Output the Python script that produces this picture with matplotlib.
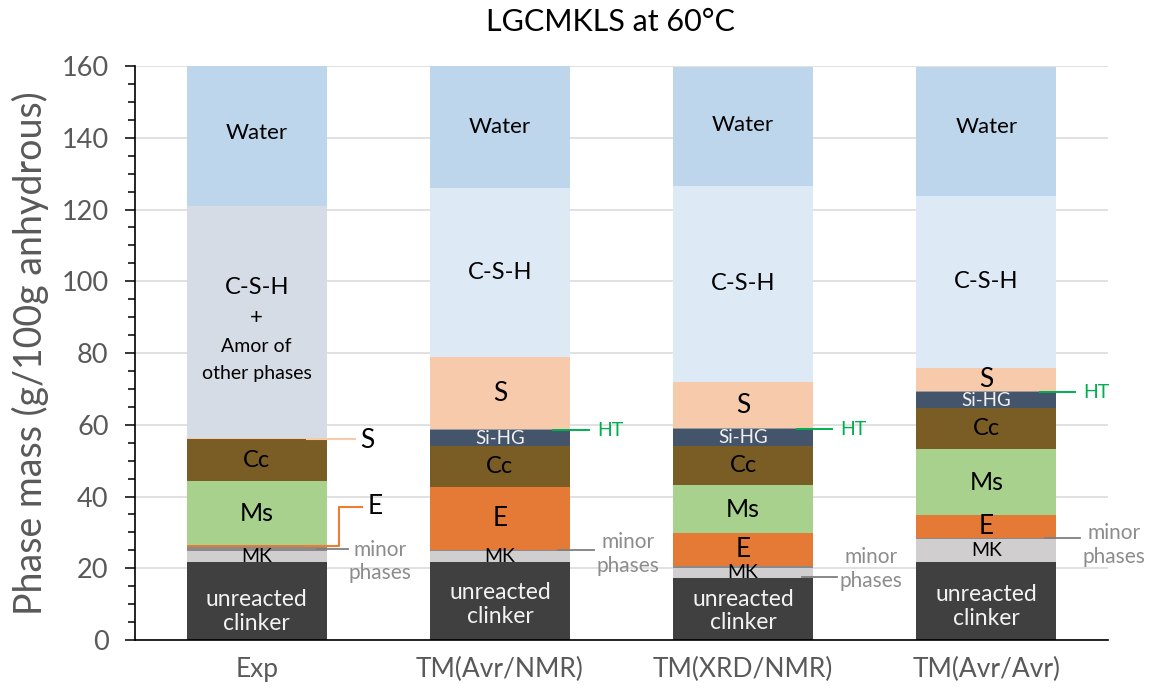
import matplotlib
matplotlib.use("Agg")
import matplotlib.pyplot as plt
from matplotlib.ticker import MultipleLocator
from matplotlib.transforms import Bbox, TransformedBbox
import numpy as np

plt.rcParams['font.family'] = ['Lato', 'DejaVu Sans']

# ---------------- data ----------------
categories = ["Exp", "TM(Avr/NMR)", "TM(XRD/NMR)", "TM(Avr/Avr)"]
clinker   = [21.8, 21.8, 17.2, 21.8]
mk        = [3.0, 3.1, 3.0, 6.4]
minor     = [1.2, 0.3, 0.3, 0.3]
ettr      = [0.4, 17.5, 9.2, 6.3]
ms        = [18.0, 0.0, 13.5, 18.4]
cc        = [11.5, 11.4, 10.9, 11.4]
sihg      = [0.0, 4.4, 4.6, 4.4]
ht        = [0.0, 0.3, 0.3, 0.3]
strat     = [0.4, 20.0, 13.0, 6.6]
csh       = [0.0, 47.2, 54.5, 47.9]
csh_amor  = [64.7, 0.0, 0.0, 0.0]
water     = [39.0, 34.0, 33.2, 35.8]

series = [
    ("clinker", clinker, "#404040"),
    ("MK", mk, "#d0cece"),
    ("minor", minor, "#8a8a8a"),
    ("E", ettr, "#e57a37"),
    ("Ms", ms, "#a9d18e"),
    ("Cc", cc, "#7a5c25"),
    ("Si-HG", sihg, "#44546a"),
    ("HT", ht, "#9a9a9a"),
    ("S", strat, "#f6caab"),
    ("C-S-H", csh, "#ddeaf6"),
    ("C-S-H+amor", csh_amor, "#d6dce5"),
    ("Water", water, "#bdd6ec"),
]

fig = plt.figure(figsize=(11.5, 6.95), dpi=100)
ax = fig.add_axes([0.1174, 0.0791, 0.9635 - 0.1174, 0.905 - 0.0791])

x = np.arange(len(categories))
W = 0.575
bottom = np.zeros(len(categories))
seg = {}
for name, vals, col in series:
    v = np.array(vals, dtype=float)
    ax.bar(x, v, W, bottom=bottom, color=col, linewidth=0, zorder=2)
    seg[name] = (bottom.copy(), bottom + v)
    bottom = bottom + v

ax.set_xlim(-0.5, 3.5)
ax.set_ylim(0, 160)
ax.yaxis.set_major_locator(MultipleLocator(20))
ax.yaxis.set_minor_locator(MultipleLocator(5))
ax.grid(axis='y', which='major', color='#d9d9d9', linewidth=1.1, zorder=0)
ax.set_axisbelow(True)
for s in ['top', 'right']:
    ax.spines[s].set_visible(False)
ax.spines['left'].set_color('black')
ax.spines['bottom'].set_color('black')
ax.spines['left'].set_linewidth(1.2)
ax.spines['bottom'].set_linewidth(1.2)
ax.tick_params(axis='y', which='major', direction='out', length=7, width=1.1,
               colors='black', labelcolor='#595959', labelsize=19.5, pad=12)
ax.tick_params(axis='y', which='minor', direction='out', length=5, width=1.1, colors='black')
ax.set_xticks(x)
ax.set_xticklabels(categories)
ax.tick_params(axis='x', length=0, labelcolor='#595959', labelsize=19, pad=12)

fig.text(610 / 1150, 1 - 22 / 695, "LGCMKLS at 60°C", ha='center', va='center', fontsize=22, color='black')
fig.text(30 / 1150, 1 - 353 / 695, "Phase mass (g/100g anhydrous)", rotation=90,
         ha='center', va='center', fontsize=27, color='#595959')


def mid(name, i):
    b, t = seg[name]
    return (b[i] + t[i]) / 2


def lab(i, name, text, size, color='black', dy=0.0, clip=False):
    t = ax.text(x[i], mid(name, i) + dy, text, ha='center', va='center', fontsize=size,
                color=color, zorder=5, linespacing=1.15)
    if clip:
        b, _ = seg[name]
        bb = Bbox([[x[i] - W / 2, b[i]], [x[i] + W / 2, 170]])
        t.set_clip_box(TransformedBbox(bb, ax.transData))
        t.set_clip_on(True)
    return t


# inside labels
clinker_dy = [-3.0, -1.0, -0.5, -1.5]
water_dy = [0.8, 0.0, 0.5, 1.4]
for i in range(4):
    lab(i, "Water", "Water", 16, dy=water_dy[i])
    lab(i, "clinker", "unreacted\nclinker", 16.5, color='#f2f2f2', dy=clinker_dy[i])
    lab(i, "MK", "MK", 14, clip=True)
    lab(i, "Cc", "Cc", 17)
for i in [1, 2, 3]:
    lab(i, "C-S-H", "C-S-H", 17)
    lab(i, "S", "S", 19)
    lab(i, "Si-HG", "Si-HG", 13.5, color='#f0f0f0')
    lab(i, "E", "E", 19)
for i in [0, 2, 3]:
    lab(i, "Ms", "Ms", 18)

# Exp C-S-H + amorphous label
cy = mid("C-S-H+amor", 0)
for txt, off, fs in [("C-S-H", 25, 17), ("+", 3, 16), ("Amor of", -18, 14), ("other phases", -37, 14)]:
    ax.annotate(txt, (x[0], cy), xytext=(0, off), textcoords='offset points',
                ha='center', va='center', fontsize=fs, color='black', zorder=5)

# ---------- outside annotations ----------
green = '#00b050'
grey_line = '#7f7f7f'
grey_txt = '#8c8c8c'

# Exp: S
ys = seg["S"][1][0] - 0.2
ax.plot([x[0] + 0.207, x[0] + 0.404], [ys, ys], color='#f6caab', lw=1.5, zorder=4, clip_on=False)
ax.text(x[0] + 0.425, 55.7, "S", ha='left', va='center', fontsize=19, color='black')
# Exp: E elbow
ye = mid("E", 0)
ax.plot([x[0] + 0.20, x[0] + 0.34, x[0] + 0.34, x[0] + 0.434], [ye, ye, 37.1, 37.1],
        color='#ed7d31', lw=1.5, zorder=4, clip_on=False)
ax.text(x[0] + 0.455, 37.1, "E", ha='left', va='center', fontsize=19, color='black')
# Exp: minor phases
ym = mid("minor", 0)
ax.plot([x[0] + 0.25, x[0] + 0.376], [ym, ym], color=grey_line, lw=1.3, zorder=4)
ax.text(x[0] + 0.508, 22.0, "minor\nphases", ha='center', va='center', fontsize=15,
        color=grey_txt, linespacing=1.2)

# HT & minor phases for model bars
ht_label_y = [None, 58.5, 58.8, 69.1]
minor_line_y = [None, 25.1, 17.6, 28.4]
minor_label_y = [None, 24.0, 19.8, 26.5]
for i in [1, 2, 3]:
    yh = ht_label_y[i]
    ax.plot([x[i] + 0.22, x[i] + 0.365], [yh, yh], color=green, lw=1.4, zorder=4)
    ax.text(x[i] + 0.40, yh, "HT", ha='left', va='center', fontsize=14, color=green)
    yl = minor_line_y[i]
    ax.plot([x[i] + 0.24, x[i] + 0.385], [yl, yl], color=grey_line, lw=1.3, zorder=4, clip_on=False)
    ax.text(x[i] + 0.525, minor_label_y[i], "minor\nphases", ha='center', va='center',
            fontsize=15, color=grey_txt, linespacing=1.2, clip_on=False)

fig.savefig("out.png", dpi=100)
